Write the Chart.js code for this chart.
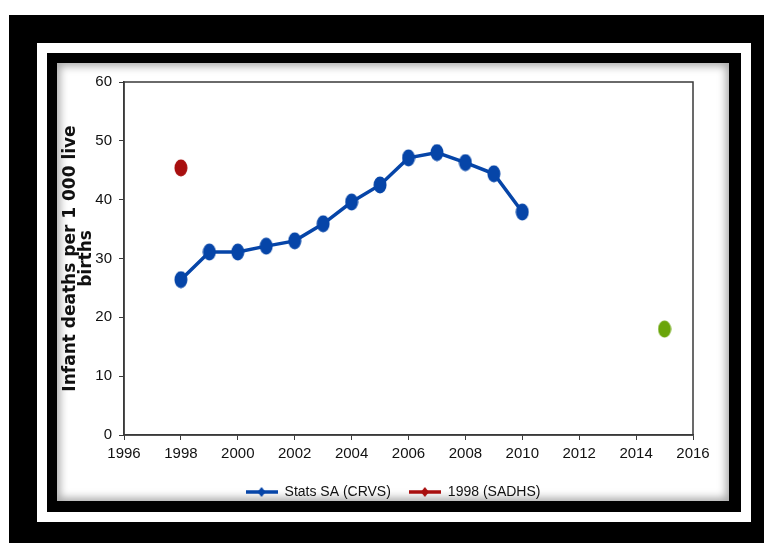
<!DOCTYPE html>
<html>
<head>
<meta charset="utf-8">
<script src="https://cdn.jsdelivr.net/npm/chart.js@4.4.1/dist/chart.umd.min.js"></script>
<style>
  html, body { margin: 0; padding: 0; background: #fff; }
  body { width: 764px; height: 543px; position: relative; overflow: hidden; }
  #outer { position: absolute; left: 9px; top: 15px; right: 0; bottom: 0; background: #000; }
  #band { position: absolute; left: 37px; top: 43px; width: 714px; height: 479px; background: #fff; }
  #inner { position: absolute; left: 47px; top: 53px; width: 694px; height: 459px; background: #000; }
  #plotbox { position: absolute; left: 57px; top: 63px; width: 672px; height: 438px; background: #fff;
    box-shadow: inset 0 0 8px 3px rgba(0,0,0,0.35); }
  #plotbox canvas { position: absolute; left: 0; top: 0; }
</style>
</head>
<body>
<div id="outer"></div>
<div id="band"></div>
<div id="inner"></div>
<div id="plotbox"><canvas id="imr" width="672" height="438"></canvas></div>
<script>
const years = [1998, 1999, 2000, 2001, 2002, 2003, 2004, 2005, 2006, 2007, 2008, 2009, 2010];
const statsSA = [26.4, 31.1, 31.1, 32.1, 33.0, 35.9, 39.6, 42.5, 47.1, 48.0, 46.3, 44.4, 37.9];
const sadhsYear = [1998];
const sadhsValue = [45.4];
const extraYear = [2015];
const extraValue = [18.0];
const xTicks = [1996, 1998, 2000, 2002, 2004, 2006, 2008, 2010, 2012, 2014, 2016];
const yTicks = [0, 10, 20, 30, 40, 50, 60];

const sans = "'Liberation Sans', Arial, sans-serif";

// ellipse shaped marker, a bit taller than wide like the original
function ellipseMarker(color) {
    var c = document.createElement('canvas');
    c.width = 14; c.height = 18;
    var g = c.getContext('2d');
    g.fillStyle = color;
    g.beginPath();
    g.ellipse(7, 9, 6.5, 8.5, 0, 0, Math.PI * 2);
    g.fill();
    return c;
}

// legend icon: line with small diamond
function legendIcon(color) {
    var c = document.createElement('canvas');
    c.width = 32; c.height = 12;
    var g = c.getContext('2d');
    g.strokeStyle = color;
    g.lineWidth = 3.5;
    g.beginPath(); g.moveTo(0, 6); g.lineTo(32, 6); g.stroke();
    g.fillStyle = color;
    g.beginPath(); g.moveTo(16, 1); g.lineTo(20, 6); g.lineTo(16, 11); g.lineTo(12, 6); g.closePath(); g.fill();
    return c;
}

const blue = '#0645a8';
const red = '#a80f0f';
const green = '#6aa50a';

const frameBox = {
    id: 'frameBox',
    afterLayout(chart) {
        // the legend box stops at the right padding; centre it on the whole canvas
        var lg = chart.legend;
        var shift = (chart.width - (lg.left + lg.right)) / 2;
        lg.left += shift;
        lg.right += shift;
    },
    afterDatasetsDraw(chart) {
        var a = chart.chartArea, ctx = chart.ctx;
        ctx.save();
        ctx.strokeStyle = '#3a3a3a';
        ctx.lineWidth = 1.5;
        ctx.strokeRect(a.left, a.top, a.right - a.left, a.bottom - a.top);
        ctx.restore();
    }
};

new Chart(document.getElementById('imr').getContext('2d'), {
    type: 'line',
    data: {
        datasets: [{
            label: 'Stats SA (CRVS)',
            data: years.map((y, i) => ({x: y, y: statsSA[i]})),
            borderColor: blue,
            backgroundColor: blue,
            borderWidth: 3.5,
            pointStyle: ellipseMarker(blue),
            tension: 0
        }, {
            label: '1998 (SADHS)',
            data: sadhsYear.map((y, i) => ({x: y, y: sadhsValue[i]})),
            borderColor: red,
            backgroundColor: red,
            showLine: false,
            pointStyle: ellipseMarker(red)
        }, {
            label: '',
            data: extraYear.map((y, i) => ({x: y, y: extraValue[i]})),
            borderColor: green,
            backgroundColor: green,
            showLine: false,
            pointStyle: ellipseMarker(green)
        }]
    },
    options: {
        responsive: false,
        animation: false,
        layout: { padding: { top: 19, right: 36, left: 0, bottom: -8 } },
        plugins: {
            tooltip: { enabled: false },
            legend: {
                position: 'bottom',
                labels: {
                    color: '#111',
                    font: { family: sans, size: 14 },
                    padding: 18,
                    usePointStyle: true,
                    pointStyleWidth: 32,
                    generateLabels(chart) {
                        return chart.data.datasets.slice(0, 2).map((ds, i) => ({
                            text: ds.label,
                            pointStyle: legendIcon(ds.borderColor),
                            datasetIndex: i,
                            fontColor: '#111',
                            lineWidth: 0
                        }));
                    }
                }
            }
        },
        scales: {
            x: {
                type: 'linear',
                min: 1996,
                max: 2016,
                afterBuildTicks(axis) { axis.ticks = xTicks.map(v => ({value: v})); },
                afterFit(axis) { axis.height = 32; },
                grid: { display: true, drawOnChartArea: false, drawTicks: true, tickLength: 5, color: '#3a3a3a' },
                border: { color: '#3a3a3a', width: 1.5 },
                ticks: {
                    color: '#111',
                    font: { family: sans, size: 15 },
                    padding: 5,
                    maxRotation: 0,
                    callback: v => String(v)
                }
            },
            y: {
                min: 0,
                max: 60,
                afterBuildTicks(axis) { axis.ticks = yTicks.map(v => ({value: v})); },
                afterFit(axis) { axis.width = 67; },
                grid: { display: true, drawOnChartArea: false, drawTicks: true, tickLength: 5, color: '#3a3a3a' },
                border: { color: '#3a3a3a', width: 1.5 },
                ticks: {
                    color: '#111',
                    font: { family: sans, size: 15 },
                    padding: 7
                },
                title: {
                    display: true,
                    text: ['Infant deaths per 1 000 live', 'births'],
                    color: '#111',
                    font: { family: "'DejaVu Sans', sans-serif", size: 17, weight: 'bold', lineHeight: 0.97 },
                    padding: { top: 5, bottom: 0 }
                }
            }
        }
    },
    plugins: [frameBox]
});
</script>
</body>
</html>
